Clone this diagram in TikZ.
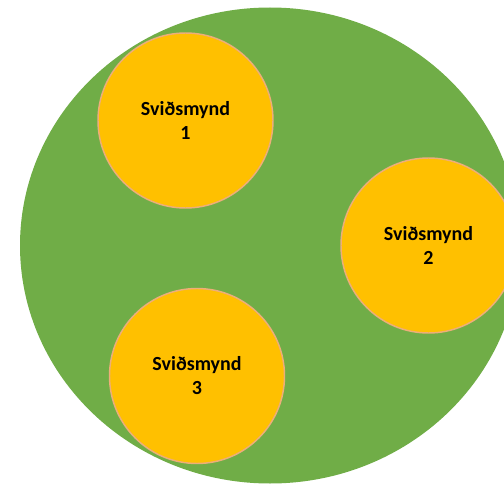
\documentclass[tikz,border=0pt]{standalone}
\usepackage{fontspec}
\setmainfont{Carlito}
\definecolor{bigg}{HTML}{70AD47}
\definecolor{orng}{HTML}{FFC000}
\definecolor{edge}{HTML}{EDAE7A}
\newdimen\pxu \pxu=0.75pt
\tikzset{
  scen/.style={circle,fill=orng,draw=edge,line width=1.1pt,minimum size=175\pxu,inner sep=0pt,align=center,font=\fontsize{15pt}{18pt}\selectfont\bfseries},
}
\begin{document}
\begin{tikzpicture}[x=0.75pt,y=-0.75pt]
\useasboundingbox (0,0) rectangle (504,485);
\clip (0,0) rectangle (504,485);
\fill[bigg] (270,245.5) ellipse (250 and 238);
\node[scen] (s1) at (185.5,120.5) {Sviðsmynd\\1};
\node[scen] (s2) at (428.5,245.5) {Sviðsmynd\\2};
\node[scen] (s3) at (197,376) {Sviðsmynd\\3};
\end{tikzpicture}
\end{document}
